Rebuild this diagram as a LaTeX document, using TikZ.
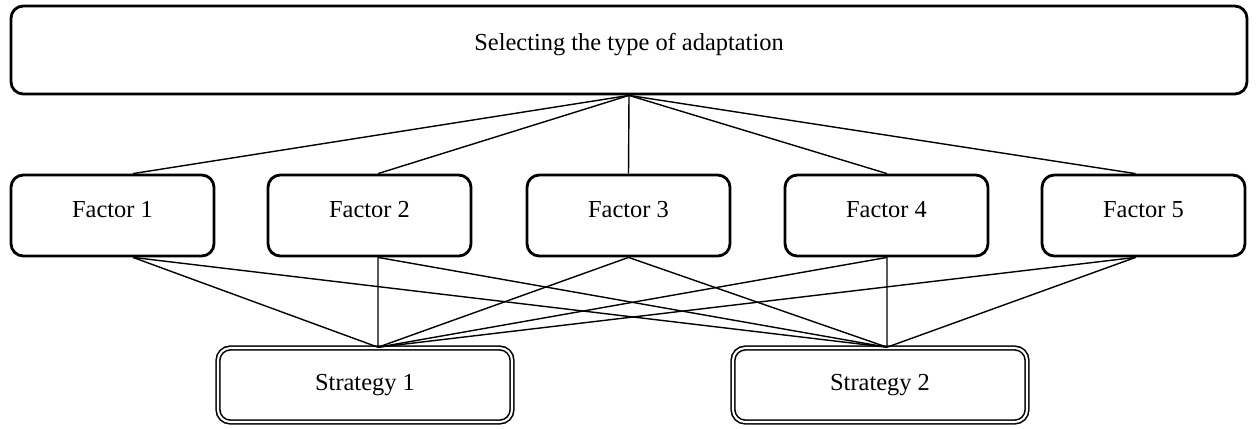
\documentclass[tikz,border=0pt]{standalone}
\usepackage{fontspec}
\setmainfont{Liberation Serif}
\usetikzlibrary{positioning, calc}

\begin{document}
\begin{tikzpicture}[
    font=\fontsize{13.9}{16}\selectfont,
    link/.style={line width=0.8pt, draw=black},
    box/.style={rectangle, draw=black, line width=1.6pt, rounded corners=7pt, align=center, inner sep=0pt},
    topbox/.style={box, minimum width=24.72cm, minimum height=1.76cm, text height=8pt, text depth=7pt},
    factor/.style={box, minimum width=4.06cm, minimum height=1.62cm, text height=8pt, text depth=6pt},
    strategy/.style={box, line width=0.9pt, double, double distance=1.2pt, minimum width=5.88cm, minimum height=1.48cm}
]
    \useasboundingbox (0,0) rectangle (25.18,-8.56);

    % ================= 1. TOPO =================
    \node[topbox] (sel) at (12.58, -1.0) {Selecting the type of adaptation};

    % ================= 2. FATORES =================
    \node[factor] (f1) at (2.25, -4.31) {Factor 1};
    \node[factor] (f2) at (7.39, -4.31) {Factor 2};
    \node[factor] (f3) at (12.57, -4.31) {Factor 3};
    \node[factor] (f4) at (17.73, -4.31) {Factor 4};
    \node[factor] (f5) at (22.87, -4.31) {Factor 5};

    % ================= 3. ESTRATEGIAS =================
    \node[strategy] (s1) at (7.30, -7.70) {Strategy 1};
    \node[strategy] (s2) at (17.60, -7.70) {Strategy 2};

    % ================= LIGACOES =================

    % Topo -> fatores
    \draw[link] (sel.south) -- ([xshift=4.1mm]f1.north);
    \draw[link] (sel.south) -- ([xshift=1.7mm]f2.north);
    \draw[link] (sel.south) -- (f3.north);
    \draw[link] (sel.south) -- ([xshift=0.1mm]f4.north);
    \draw[link] (sel.south) -- ([xshift=-1.6mm]f5.north);

    % Fatores -> Strategy 1
    \draw[link] ([xshift=4.1mm]f1.south) -- ([xshift=2.6mm]s1.north);
    \draw[link] ([xshift=1.7mm]f2.south) -- ([xshift=2.6mm]s1.north);
    \draw[link] (f3.south) -- ([xshift=2.6mm]s1.north);
    \draw[link] ([xshift=0.1mm]f4.south) -- ([xshift=2.6mm]s1.north);
    \draw[link] ([xshift=-1.6mm]f5.south) -- ([xshift=2.6mm]s1.north);

    % Fatores -> Strategy 2
    \draw[link] ([xshift=4.1mm]f1.south) -- ([xshift=1.4mm]s2.north);
    \draw[link] ([xshift=1.7mm]f2.south) -- ([xshift=1.4mm]s2.north);
    \draw[link] (f3.south) -- ([xshift=1.4mm]s2.north);
    \draw[link] ([xshift=0.1mm]f4.south) -- ([xshift=1.4mm]s2.north);
    \draw[link] ([xshift=-1.6mm]f5.south) -- ([xshift=1.4mm]s2.north);

\end{tikzpicture}
\end{document}
